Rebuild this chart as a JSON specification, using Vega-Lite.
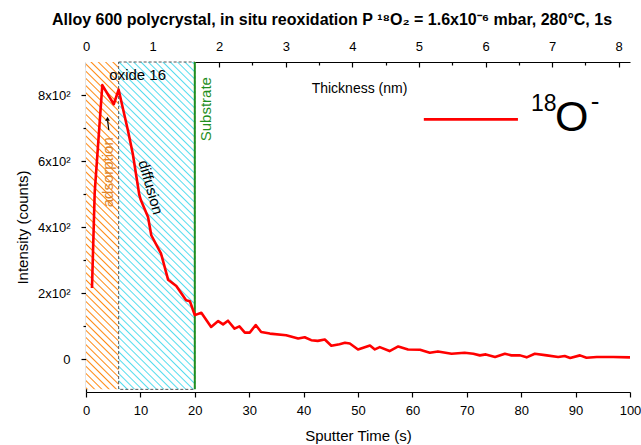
{
  "$schema": "https://vega.github.io/schema/vega-lite/v6.json",
  "width": 544,
  "height": 330,
  "autosize": {"type": "none"},
  "padding": {"left": 86, "top": 62, "right": 11, "bottom": 53},
  "background": "white",
  "title": {"text": "Alloy 600 polycrystal, in situ reoxidation P ¹⁸O₂ = 1.6x10⁻⁶ mbar, 280°C, 1s", "fontSize": 16, "fontWeight": "bold", "font": "Liberation Sans", "anchor": "middle", "dx": -26, "offset": 10, "color": "black"},
  "config": {
    "font": "Liberation Sans",
    "view": {"stroke": null},
    "axis": {"domainColor": "black", "tickColor": "black", "labelColor": "black", "titleColor": "black", "labelFont": "Liberation Sans", "titleFont": "Liberation Sans", "titleFontWeight": "normal", "domainWidth": 1.2, "tickWidth": 1.2, "labelFlush": false, "labelOverlap": false, "grid": false, "labelFontSize": 13, "titleFontSize": 15}
  },
  "data": {"values": [{}]},
  "datasets": {
    "o18": [
      {"t": 1.1, "v": 215}, {"t": 1.6, "v": 505}, {"t": 3.0, "v": 830}, {"t": 5.1, "v": 772}, {"t": 6.0, "v": 816},
      {"t": 7.7, "v": 693}, {"t": 8.6, "v": 622}, {"t": 9.8, "v": 497}, {"t": 10.1, "v": 481}, {"t": 11.4, "v": 430},
      {"t": 12.0, "v": 375}, {"t": 13.8, "v": 319}, {"t": 15.1, "v": 240}, {"t": 16.6, "v": 221}, {"t": 18.4, "v": 178},
      {"t": 19.1, "v": 175}, {"t": 20.0, "v": 133}, {"t": 21.2, "v": 140}, {"t": 23.0, "v": 97}, {"t": 24.3, "v": 115},
      {"t": 25.2, "v": 105}, {"t": 26.1, "v": 116}, {"t": 27.3, "v": 92}, {"t": 28.2, "v": 99}, {"t": 29.2, "v": 80},
      {"t": 30.1, "v": 80}, {"t": 31.2, "v": 103}, {"t": 32.2, "v": 82}, {"t": 33.8, "v": 77}, {"t": 36.8, "v": 72},
      {"t": 39.0, "v": 62}, {"t": 40.2, "v": 66}, {"t": 41.4, "v": 57}, {"t": 42.6, "v": 55}, {"t": 43.9, "v": 59},
      {"t": 45.1, "v": 40}, {"t": 46.6, "v": 45}, {"t": 47.6, "v": 49}, {"t": 48.5, "v": 47}, {"t": 50.0, "v": 29},
      {"t": 52.2, "v": 41}, {"t": 53.1, "v": 29}, {"t": 54.0, "v": 36}, {"t": 55.8, "v": 24}, {"t": 57.4, "v": 38},
      {"t": 59.2, "v": 29}, {"t": 61.4, "v": 28}, {"t": 63.2, "v": 19}, {"t": 64.7, "v": 23}, {"t": 67.2, "v": 16},
      {"t": 69.6, "v": 19}, {"t": 71.2, "v": 16}, {"t": 72.4, "v": 11}, {"t": 73.5, "v": 14}, {"t": 75.2, "v": 6},
      {"t": 77.0, "v": 16}, {"t": 78.2, "v": 11}, {"t": 79.8, "v": 11}, {"t": 81.0, "v": 5}, {"t": 82.5, "v": 16},
      {"t": 84.7, "v": 11}, {"t": 86.8, "v": 6}, {"t": 88.0, "v": 9}, {"t": 89.0, "v": 3}, {"t": 90.8, "v": 11},
      {"t": 92.0, "v": 4}, {"t": 93.9, "v": 6}, {"t": 96.9, "v": 6}, {"t": 100, "v": 5}
    ]
  },
  "layer": [
    {
      "layer": [
        {
          "mark": {"type": "rect", "fill": {"gradient": "linear", "x1": 0, "y1": 1, "x2": 0.1075, "y2": -0.0882, "stops": [
            {"offset":0,"color":"#fff"},{"offset":0.004,"color":"#ff8a14"},{"offset":0.008,"color":"#fff"},
            {"offset":0.02,"color":"#fff"},{"offset":0.024,"color":"#ff8a14"},{"offset":0.028,"color":"#fff"},
            {"offset":0.04,"color":"#fff"},{"offset":0.044,"color":"#ff8a14"},{"offset":0.048,"color":"#fff"},
            {"offset":0.06,"color":"#fff"},{"offset":0.064,"color":"#ff8a14"},{"offset":0.068,"color":"#fff"},
            {"offset":0.08,"color":"#fff"},{"offset":0.084,"color":"#ff8a14"},{"offset":0.088,"color":"#fff"},
            {"offset":0.1,"color":"#fff"},{"offset":0.104,"color":"#ff8a14"},{"offset":0.108,"color":"#fff"},
            {"offset":0.12,"color":"#fff"},{"offset":0.124,"color":"#ff8a14"},{"offset":0.128,"color":"#fff"},
            {"offset":0.14,"color":"#fff"},{"offset":0.144,"color":"#ff8a14"},{"offset":0.148,"color":"#fff"},
            {"offset":0.16,"color":"#fff"},{"offset":0.164,"color":"#ff8a14"},{"offset":0.168,"color":"#fff"},
            {"offset":0.18,"color":"#fff"},{"offset":0.184,"color":"#ff8a14"},{"offset":0.188,"color":"#fff"},
            {"offset":0.2,"color":"#fff"},{"offset":0.204,"color":"#ff8a14"},{"offset":0.208,"color":"#fff"},
            {"offset":0.22,"color":"#fff"},{"offset":0.224,"color":"#ff8a14"},{"offset":0.228,"color":"#fff"},
            {"offset":0.24,"color":"#fff"},{"offset":0.244,"color":"#ff8a14"},{"offset":0.248,"color":"#fff"},
            {"offset":0.26,"color":"#fff"},{"offset":0.264,"color":"#ff8a14"},{"offset":0.268,"color":"#fff"},
            {"offset":0.28,"color":"#fff"},{"offset":0.284,"color":"#ff8a14"},{"offset":0.288,"color":"#fff"},
            {"offset":0.3,"color":"#fff"},{"offset":0.304,"color":"#ff8a14"},{"offset":0.308,"color":"#fff"},
            {"offset":0.32,"color":"#fff"},{"offset":0.324,"color":"#ff8a14"},{"offset":0.328,"color":"#fff"},
            {"offset":0.34,"color":"#fff"},{"offset":0.344,"color":"#ff8a14"},{"offset":0.348,"color":"#fff"},
            {"offset":0.36,"color":"#fff"},{"offset":0.364,"color":"#ff8a14"},{"offset":0.368,"color":"#fff"},
            {"offset":0.38,"color":"#fff"},{"offset":0.384,"color":"#ff8a14"},{"offset":0.388,"color":"#fff"},
            {"offset":0.4,"color":"#fff"},{"offset":0.404,"color":"#ff8a14"},{"offset":0.408,"color":"#fff"},
            {"offset":0.42,"color":"#fff"},{"offset":0.424,"color":"#ff8a14"},{"offset":0.428,"color":"#fff"},
            {"offset":0.44,"color":"#fff"},{"offset":0.444,"color":"#ff8a14"},{"offset":0.448,"color":"#fff"},
            {"offset":0.46,"color":"#fff"},{"offset":0.464,"color":"#ff8a14"},{"offset":0.468,"color":"#fff"},
            {"offset":0.48,"color":"#fff"},{"offset":0.484,"color":"#ff8a14"},{"offset":0.488,"color":"#fff"},
            {"offset":0.5,"color":"#fff"},{"offset":0.504,"color":"#ff8a14"},{"offset":0.508,"color":"#fff"},
            {"offset":0.52,"color":"#fff"},{"offset":0.524,"color":"#ff8a14"},{"offset":0.528,"color":"#fff"},
            {"offset":0.54,"color":"#fff"},{"offset":0.544,"color":"#ff8a14"},{"offset":0.548,"color":"#fff"},
            {"offset":0.56,"color":"#fff"},{"offset":0.564,"color":"#ff8a14"},{"offset":0.568,"color":"#fff"},
            {"offset":0.58,"color":"#fff"},{"offset":0.584,"color":"#ff8a14"},{"offset":0.588,"color":"#fff"},
            {"offset":0.6,"color":"#fff"},{"offset":0.604,"color":"#ff8a14"},{"offset":0.608,"color":"#fff"},
            {"offset":0.62,"color":"#fff"},{"offset":0.624,"color":"#ff8a14"},{"offset":0.628,"color":"#fff"},
            {"offset":0.64,"color":"#fff"},{"offset":0.644,"color":"#ff8a14"},{"offset":0.648,"color":"#fff"},
            {"offset":0.66,"color":"#fff"},{"offset":0.664,"color":"#ff8a14"},{"offset":0.668,"color":"#fff"},
            {"offset":0.68,"color":"#fff"},{"offset":0.684,"color":"#ff8a14"},{"offset":0.688,"color":"#fff"},
            {"offset":0.7,"color":"#fff"},{"offset":0.704,"color":"#ff8a14"},{"offset":0.708,"color":"#fff"},
            {"offset":0.72,"color":"#fff"},{"offset":0.724,"color":"#ff8a14"},{"offset":0.728,"color":"#fff"},
            {"offset":0.74,"color":"#fff"},{"offset":0.744,"color":"#ff8a14"},{"offset":0.748,"color":"#fff"},
            {"offset":0.76,"color":"#fff"},{"offset":0.764,"color":"#ff8a14"},{"offset":0.768,"color":"#fff"},
            {"offset":0.78,"color":"#fff"},{"offset":0.784,"color":"#ff8a14"},{"offset":0.788,"color":"#fff"},
            {"offset":0.8,"color":"#fff"},{"offset":0.804,"color":"#ff8a14"},{"offset":0.808,"color":"#fff"},
            {"offset":0.82,"color":"#fff"},{"offset":0.824,"color":"#ff8a14"},{"offset":0.828,"color":"#fff"},
            {"offset":0.84,"color":"#fff"},{"offset":0.844,"color":"#ff8a14"},{"offset":0.848,"color":"#fff"},
            {"offset":0.86,"color":"#fff"},{"offset":0.864,"color":"#ff8a14"},{"offset":0.868,"color":"#fff"},
            {"offset":0.88,"color":"#fff"},{"offset":0.884,"color":"#ff8a14"},{"offset":0.888,"color":"#fff"},
            {"offset":0.9,"color":"#fff"},{"offset":0.904,"color":"#ff8a14"},{"offset":0.908,"color":"#fff"},
            {"offset":0.92,"color":"#fff"},{"offset":0.924,"color":"#ff8a14"},{"offset":0.928,"color":"#fff"},
            {"offset":0.94,"color":"#fff"},{"offset":0.944,"color":"#ff8a14"},{"offset":0.948,"color":"#fff"},
            {"offset":0.96,"color":"#fff"},{"offset":0.964,"color":"#ff8a14"},{"offset":0.968,"color":"#fff"},
            {"offset":0.98,"color":"#fff"},{"offset":0.984,"color":"#ff8a14"},{"offset":0.988,"color":"#fff"},
            {"offset":1,"color":"#fff"}
          ]}},
          "encoding": {"x": {"datum": 0}, "x2": {"datum": 6}, "y": {"datum": -92}, "y2": {"datum": 900}}
        },
        {
          "mark": {"type": "rect", "stroke": "#555555", "strokeWidth": 1, "strokeDash": [3, 2], "fill": {"gradient": "linear", "x1": 0, "y1": 1, "x2": 0.2695, "y2": -0.1685, "stops": [
            {"offset":0,"color":"#fff"},{"offset":0.0035,"color":"#55dcee"},{"offset":0.007,"color":"#fff"},
            {"offset":0.018,"color":"#fff"},{"offset":0.0215,"color":"#55dcee"},{"offset":0.025,"color":"#fff"},
            {"offset":0.036,"color":"#fff"},{"offset":0.0395,"color":"#55dcee"},{"offset":0.043,"color":"#fff"},
            {"offset":0.054,"color":"#fff"},{"offset":0.0575,"color":"#55dcee"},{"offset":0.061,"color":"#fff"},
            {"offset":0.072,"color":"#fff"},{"offset":0.0755,"color":"#55dcee"},{"offset":0.079,"color":"#fff"},
            {"offset":0.09,"color":"#fff"},{"offset":0.0935,"color":"#55dcee"},{"offset":0.097,"color":"#fff"},
            {"offset":0.108,"color":"#fff"},{"offset":0.1115,"color":"#55dcee"},{"offset":0.115,"color":"#fff"},
            {"offset":0.126,"color":"#fff"},{"offset":0.1295,"color":"#55dcee"},{"offset":0.133,"color":"#fff"},
            {"offset":0.144,"color":"#fff"},{"offset":0.1475,"color":"#55dcee"},{"offset":0.151,"color":"#fff"},
            {"offset":0.162,"color":"#fff"},{"offset":0.1655,"color":"#55dcee"},{"offset":0.169,"color":"#fff"},
            {"offset":0.18,"color":"#fff"},{"offset":0.1835,"color":"#55dcee"},{"offset":0.187,"color":"#fff"},
            {"offset":0.198,"color":"#fff"},{"offset":0.2015,"color":"#55dcee"},{"offset":0.205,"color":"#fff"},
            {"offset":0.216,"color":"#fff"},{"offset":0.2195,"color":"#55dcee"},{"offset":0.223,"color":"#fff"},
            {"offset":0.234,"color":"#fff"},{"offset":0.2375,"color":"#55dcee"},{"offset":0.241,"color":"#fff"},
            {"offset":0.252,"color":"#fff"},{"offset":0.2555,"color":"#55dcee"},{"offset":0.259,"color":"#fff"},
            {"offset":0.27,"color":"#fff"},{"offset":0.2735,"color":"#55dcee"},{"offset":0.277,"color":"#fff"},
            {"offset":0.288,"color":"#fff"},{"offset":0.2915,"color":"#55dcee"},{"offset":0.295,"color":"#fff"},
            {"offset":0.306,"color":"#fff"},{"offset":0.3095,"color":"#55dcee"},{"offset":0.313,"color":"#fff"},
            {"offset":0.324,"color":"#fff"},{"offset":0.3275,"color":"#55dcee"},{"offset":0.331,"color":"#fff"},
            {"offset":0.342,"color":"#fff"},{"offset":0.3455,"color":"#55dcee"},{"offset":0.349,"color":"#fff"},
            {"offset":0.36,"color":"#fff"},{"offset":0.3635,"color":"#55dcee"},{"offset":0.367,"color":"#fff"},
            {"offset":0.378,"color":"#fff"},{"offset":0.3815,"color":"#55dcee"},{"offset":0.385,"color":"#fff"},
            {"offset":0.396,"color":"#fff"},{"offset":0.3995,"color":"#55dcee"},{"offset":0.403,"color":"#fff"},
            {"offset":0.414,"color":"#fff"},{"offset":0.4175,"color":"#55dcee"},{"offset":0.421,"color":"#fff"},
            {"offset":0.432,"color":"#fff"},{"offset":0.4355,"color":"#55dcee"},{"offset":0.439,"color":"#fff"},
            {"offset":0.45,"color":"#fff"},{"offset":0.4535,"color":"#55dcee"},{"offset":0.457,"color":"#fff"},
            {"offset":0.468,"color":"#fff"},{"offset":0.4715,"color":"#55dcee"},{"offset":0.475,"color":"#fff"},
            {"offset":0.486,"color":"#fff"},{"offset":0.4895,"color":"#55dcee"},{"offset":0.493,"color":"#fff"},
            {"offset":0.504,"color":"#fff"},{"offset":0.5075,"color":"#55dcee"},{"offset":0.511,"color":"#fff"},
            {"offset":0.522,"color":"#fff"},{"offset":0.5255,"color":"#55dcee"},{"offset":0.529,"color":"#fff"},
            {"offset":0.54,"color":"#fff"},{"offset":0.5435,"color":"#55dcee"},{"offset":0.547,"color":"#fff"},
            {"offset":0.558,"color":"#fff"},{"offset":0.5615,"color":"#55dcee"},{"offset":0.565,"color":"#fff"},
            {"offset":0.576,"color":"#fff"},{"offset":0.5795,"color":"#55dcee"},{"offset":0.583,"color":"#fff"},
            {"offset":0.594,"color":"#fff"},{"offset":0.5975,"color":"#55dcee"},{"offset":0.601,"color":"#fff"},
            {"offset":0.612,"color":"#fff"},{"offset":0.6155,"color":"#55dcee"},{"offset":0.619,"color":"#fff"},
            {"offset":0.63,"color":"#fff"},{"offset":0.6335,"color":"#55dcee"},{"offset":0.637,"color":"#fff"},
            {"offset":0.648,"color":"#fff"},{"offset":0.6515,"color":"#55dcee"},{"offset":0.655,"color":"#fff"},
            {"offset":0.666,"color":"#fff"},{"offset":0.6695,"color":"#55dcee"},{"offset":0.673,"color":"#fff"},
            {"offset":0.684,"color":"#fff"},{"offset":0.6875,"color":"#55dcee"},{"offset":0.691,"color":"#fff"},
            {"offset":0.702,"color":"#fff"},{"offset":0.7055,"color":"#55dcee"},{"offset":0.709,"color":"#fff"},
            {"offset":0.72,"color":"#fff"},{"offset":0.7235,"color":"#55dcee"},{"offset":0.727,"color":"#fff"},
            {"offset":0.738,"color":"#fff"},{"offset":0.7415,"color":"#55dcee"},{"offset":0.745,"color":"#fff"},
            {"offset":0.756,"color":"#fff"},{"offset":0.7595,"color":"#55dcee"},{"offset":0.763,"color":"#fff"},
            {"offset":0.774,"color":"#fff"},{"offset":0.7775,"color":"#55dcee"},{"offset":0.781,"color":"#fff"},
            {"offset":0.792,"color":"#fff"},{"offset":0.7955,"color":"#55dcee"},{"offset":0.799,"color":"#fff"},
            {"offset":0.81,"color":"#fff"},{"offset":0.8135,"color":"#55dcee"},{"offset":0.817,"color":"#fff"},
            {"offset":0.828,"color":"#fff"},{"offset":0.8315,"color":"#55dcee"},{"offset":0.835,"color":"#fff"},
            {"offset":0.846,"color":"#fff"},{"offset":0.8495,"color":"#55dcee"},{"offset":0.853,"color":"#fff"},
            {"offset":0.864,"color":"#fff"},{"offset":0.8675,"color":"#55dcee"},{"offset":0.871,"color":"#fff"},
            {"offset":0.882,"color":"#fff"},{"offset":0.8855,"color":"#55dcee"},{"offset":0.889,"color":"#fff"},
            {"offset":0.9,"color":"#fff"},{"offset":0.9035,"color":"#55dcee"},{"offset":0.907,"color":"#fff"},
            {"offset":0.918,"color":"#fff"},{"offset":0.9215,"color":"#55dcee"},{"offset":0.925,"color":"#fff"},
            {"offset":0.936,"color":"#fff"},{"offset":0.9395,"color":"#55dcee"},{"offset":0.943,"color":"#fff"},
            {"offset":0.954,"color":"#fff"},{"offset":0.9575,"color":"#55dcee"},{"offset":0.961,"color":"#fff"},
            {"offset":0.972,"color":"#fff"},{"offset":0.9755,"color":"#55dcee"},{"offset":0.979,"color":"#fff"},
            {"offset":0.99,"color":"#fff"},{"offset":0.9935,"color":"#55dcee"},{"offset":0.997,"color":"#fff"},
            {"offset":1,"color":"#fff"}
          ]}},
          "encoding": {"x": {"datum": 6}, "x2": {"datum": 20}, "y": {"datum": -92}, "y2": {"datum": 900}}
        },
        {
          "mark": {"type": "rule", "color": "#1f8f1f", "strokeWidth": 2},
          "encoding": {"x": {"datum": 20}, "y": {"datum": -92}, "y2": {"datum": 900}}
        },
        {
          "data": {"name": "o18"},
          "mark": {"type": "line", "color": "#ff0000", "strokeWidth": 2.6, "strokeJoin": "round"},
          "encoding": {
            "x": {"field": "t", "type": "quantitative", "scale": {"domain": [0, 100], "nice": false, "zero": false},
              "axis": {"orient": "bottom", "title": "Sputter Time (s)", "values": [0,5,10,15,20,25,30,35,40,45,50,55,60,65,70,75,80,85,90,95,100],
                "labelExpr": "datum.value % 10 == 0 ? datum.label : ''",
                "tickSize": {"condition": {"test": "datum.value % 10 != 0", "value": 3}, "value": 5},
                "labelPadding": 7, "titleX": 272, "titleY": 43, "titleAnchor": null, "titleAlign": "center", "titleBaseline": "middle"}},
            "y": {"field": "v", "type": "quantitative", "scale": {"domain": [-100, 900], "nice": false, "zero": false},
              "axis": {"title": "Intensity (counts)", "values": [0,100,200,300,400,500,600,700,800],
                "labelExpr": "datum.value == 0 ? '0' : (datum.value % 200 == 0 ? format(datum.value / 100, 'd') + 'x10²' : '')",
                "tickSize": {"condition": {"test": "datum.value % 200 != 0", "value": 3}, "value": 5},
                "labelPadding": 11, "titleX": -64, "titleY": 165, "titleAngle": 270, "titleAlign": "center", "titleBaseline": "middle"}}
          }
        },
        {
          "mark": {"type": "text", "fontSize": 15, "align": "center", "baseline": "middle", "color": "black"},
          "encoding": {"x": {"datum": 9.5}, "y": {"datum": 860}, "text": {"value": "oxide 16"}}
        },
        {
          "mark": {"type": "text", "fontSize": 15, "align": "center", "baseline": "middle", "angle": 270, "color": "#1f8f1f"},
          "encoding": {"x": {"datum": 22.1}, "y": {"datum": 757}, "text": {"value": "Substrate"}}
        },
        {
          "mark": {"type": "text", "fontSize": 15, "align": "center", "baseline": "middle", "angle": 270, "color": "#e0852a"},
          "encoding": {"x": {"datum": 3.96}, "y": {"datum": 566}, "text": {"value": "adsorption"}}
        },
        {
          "mark": {"type": "text", "fontSize": 15, "align": "center", "baseline": "middle", "angle": 74, "color": "black"},
          "encoding": {"x": {"datum": 11.9}, "y": {"datum": 520}, "text": {"value": "diffusion"}}
        },
        {
          "mark": {"type": "rule", "color": "black", "strokeWidth": 1.2},
          "encoding": {"x": {"datum": 4.19}, "x2": {"datum": 3.98}, "y": {"datum": 694}, "y2": {"datum": 722}}
        },
        {
          "mark": {"type": "point", "shape": "triangle-up", "filled": true, "color": "black", "size": 22, "opacity": 1},
          "encoding": {"x": {"datum": 3.95}, "y": {"datum": 728}}
        },
        {
          "mark": {"type": "rule", "color": "#ff0000", "strokeWidth": 2.6},
          "encoding": {"x": {"datum": 62.1}, "x2": {"datum": 79.4}, "y": {"datum": 726}}
        },
        {
          "mark": {"type": "text", "fontSize": 23, "align": "left", "baseline": "middle", "color": "black"},
          "encoding": {"x": {"datum": 81.8}, "y": {"datum": 772}, "text": {"value": "18"}}
        },
        {
          "mark": {"type": "text", "fontSize": 43, "align": "left", "baseline": "middle", "color": "black"},
          "encoding": {"x": {"datum": 86.2}, "y": {"datum": 729}, "text": {"value": "O"}}
        },
        {
          "mark": {"type": "text", "fontSize": 26, "align": "left", "baseline": "middle", "color": "black"},
          "encoding": {"x": {"datum": 92.8}, "y": {"datum": 778}, "text": {"value": "-"}}
        }
      ]
    },
    {
      "mark": {"type": "point", "opacity": 0},
      "encoding": {
        "x": {"datum": 0, "type": "quantitative", "scale": {"domain": [0, 8.17], "nice": false, "zero": false},
          "axis": {"orient": "top", "title": "Thickness (nm)", "values": [0,0.5,1,1.5,2,2.5,3,3.5,4,4.5,5,5.5,6,6.5,7,7.5,8],
            "labelExpr": "datum.value % 1 == 0 ? format(datum.value, 'd') : ''",
            "tickSize": {"condition": {"test": "datum.value % 1 != 0", "value": -3}, "value": -5},
            "labelPadding": 14, "titleX": 273, "titleY": 26, "titleAlign": "center", "titleBaseline": "middle", "titleFontSize": 14}}
      }
    }
  ],
  "resolve": {"scale": {"x": "independent"}}
}
